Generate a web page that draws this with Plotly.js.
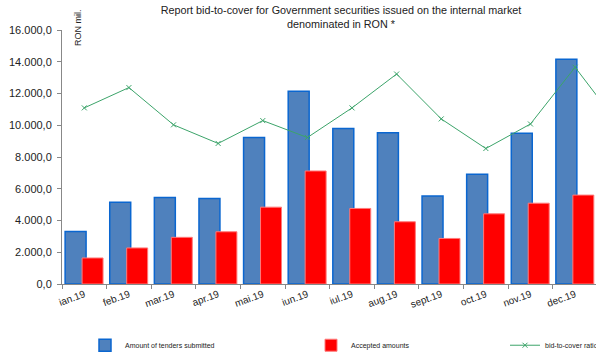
<!DOCTYPE html>
<html>
<head>
<meta charset="utf-8">
<script src="https://cdn.plot.ly/plotly-3.0.1.min.js"></script>
<style>
html,body{margin:0;padding:0;overflow:hidden;background:#fff;width:596px;height:353px;}
#chart{width:682px;height:353px;}
</style>
</head>
<body>
<div id="chart"></div>
<script>
// Data
var months = ['ian.19','feb.19','mar.19','apr.19','mai.19','iun.19','iul.19','aug.19','sept.19','oct.19','nov.19','dec.19','ian.20'];
var tenders = [3300, 5150, 5450, 5380, 9230, 12140, 9800, 9520, 5550, 6910, 9490, 14150, null];
var accepted = [1640, 2270, 2940, 3290, 4840, 7120, 4760, 3920, 2870, 4420, 5090, 5600, null];
var bidToCover = [2.08, 2.32, 1.88, 1.66, 1.93, 1.73, 2.08, 2.48, 1.95, 1.60, 1.89, 2.56, 1.87];
var shownTicks = months.slice(0, 12);
var yTicks = [0, 2000, 4000, 6000, 8000, 10000, 12000, 14000, 16000];

var FONT = 'Liberation Sans, Arial, sans-serif';

var traces = [
  {
    type: 'bar', name: 'Amount of tenders submitted', x: months, y: tenders,
    offset: -0.43, width: 0.47,
    marker: {color: '#4F81BD', line: {color: '#0A66D0', width: 1.5}},
    legend: 'legend', showlegend: true
  },
  {
    type: 'bar', name: 'Accepted amounts', x: months, y: accepted,
    offset: -0.05, width: 0.47,
    marker: {color: '#FF0000', line: {color: '#FF7A7A', width: 1}},
    legend: 'legend2', showlegend: true
  },
  {
    type: 'scatter', mode: 'lines+markers', name: 'bid-to-cover ratio', x: months, y: bidToCover,
    yaxis: 'y2', cliponaxis: false,
    line: {color: '#3CA46A', width: 1},
    marker: {symbol: 'x-thin', size: 5, line: {color: '#3CA46A', width: 1}, color: '#3CA46A'},
    legend: 'legend3', showlegend: true
  }
];

var legendCommon = {
  orientation: 'h', yref: 'container', y: 0.022, yanchor: 'middle',
  xanchor: 'left', font: {family: FONT, size: 7, color: '#222'},
  bgcolor: 'rgba(0,0,0,0)', itemwidth: 30, visible: true
};

var layout = {
  width: 682, height: 353,
  showlegend: true,
  margin: {l: 62, r: 40, t: 30, b: 68.5, pad: 0},
  paper_bgcolor: '#fff', plot_bgcolor: '#fff',
  separators: ',.',
  barmode: 'overlay',
  font: {family: FONT, color: '#222'},
  title: {
    text: 'Report bid-to-cover for Government securities issued on the internal market<br>denominated in RON *',
    font: {family: FONT, size: 10.8, color: '#222'},
    xref: 'container', x: 0.5, xanchor: 'center',
    yref: 'container', y: 1 - 14 / 353, yanchor: 'middle'
  },
  xaxis: {
    type: 'category', range: [-0.5, 12.5],
    tickvals: shownTicks, ticktext: shownTicks,
    tickson: 'boundaries', ticks: 'outside', ticklen: 4, tickcolor: '#888',
    showline: true, linecolor: '#888', linewidth: 1,
    tickangle: -20, tickfont: {family: FONT, size: 10, color: '#222'},
    showgrid: false, zeroline: false
  },
  yaxis: {
    range: [0, 16000], tickvals: yTicks, tickformat: ',.1f',
    ticks: 'outside', ticklen: 4, tickcolor: '#888',
    showline: true, linecolor: '#888', linewidth: 1,
    ticklabelstandoff: 3,
    tickfont: {family: FONT, size: 11, color: '#222'},
    showgrid: false, zeroline: false
  },
  yaxis2: {
    overlaying: 'y', side: 'right', range: [0, 3], visible: false, showgrid: false
  },
  legend: Object.assign({}, legendCommon, {x: 85 / 682, xref: 'container'}),
  legend2: Object.assign({}, legendCommon, {x: 311 / 682, xref: 'container'}),
  legend3: Object.assign({}, legendCommon, {x: 505 / 682, xref: 'container'}),
  annotations: [
    {
      text: 'RON mil.', textangle: -90, showarrow: false,
      xref: 'paper', yref: 'paper', x: 16 / 580, y: 1.008,
      xanchor: 'center', yanchor: 'middle',
      font: {family: FONT, size: 9, color: '#222'}
    }
  ]
};

Plotly.newPlot('chart', traces, layout, {displayModeBar: false, staticPlot: true});
</script>
</body>
</html>
